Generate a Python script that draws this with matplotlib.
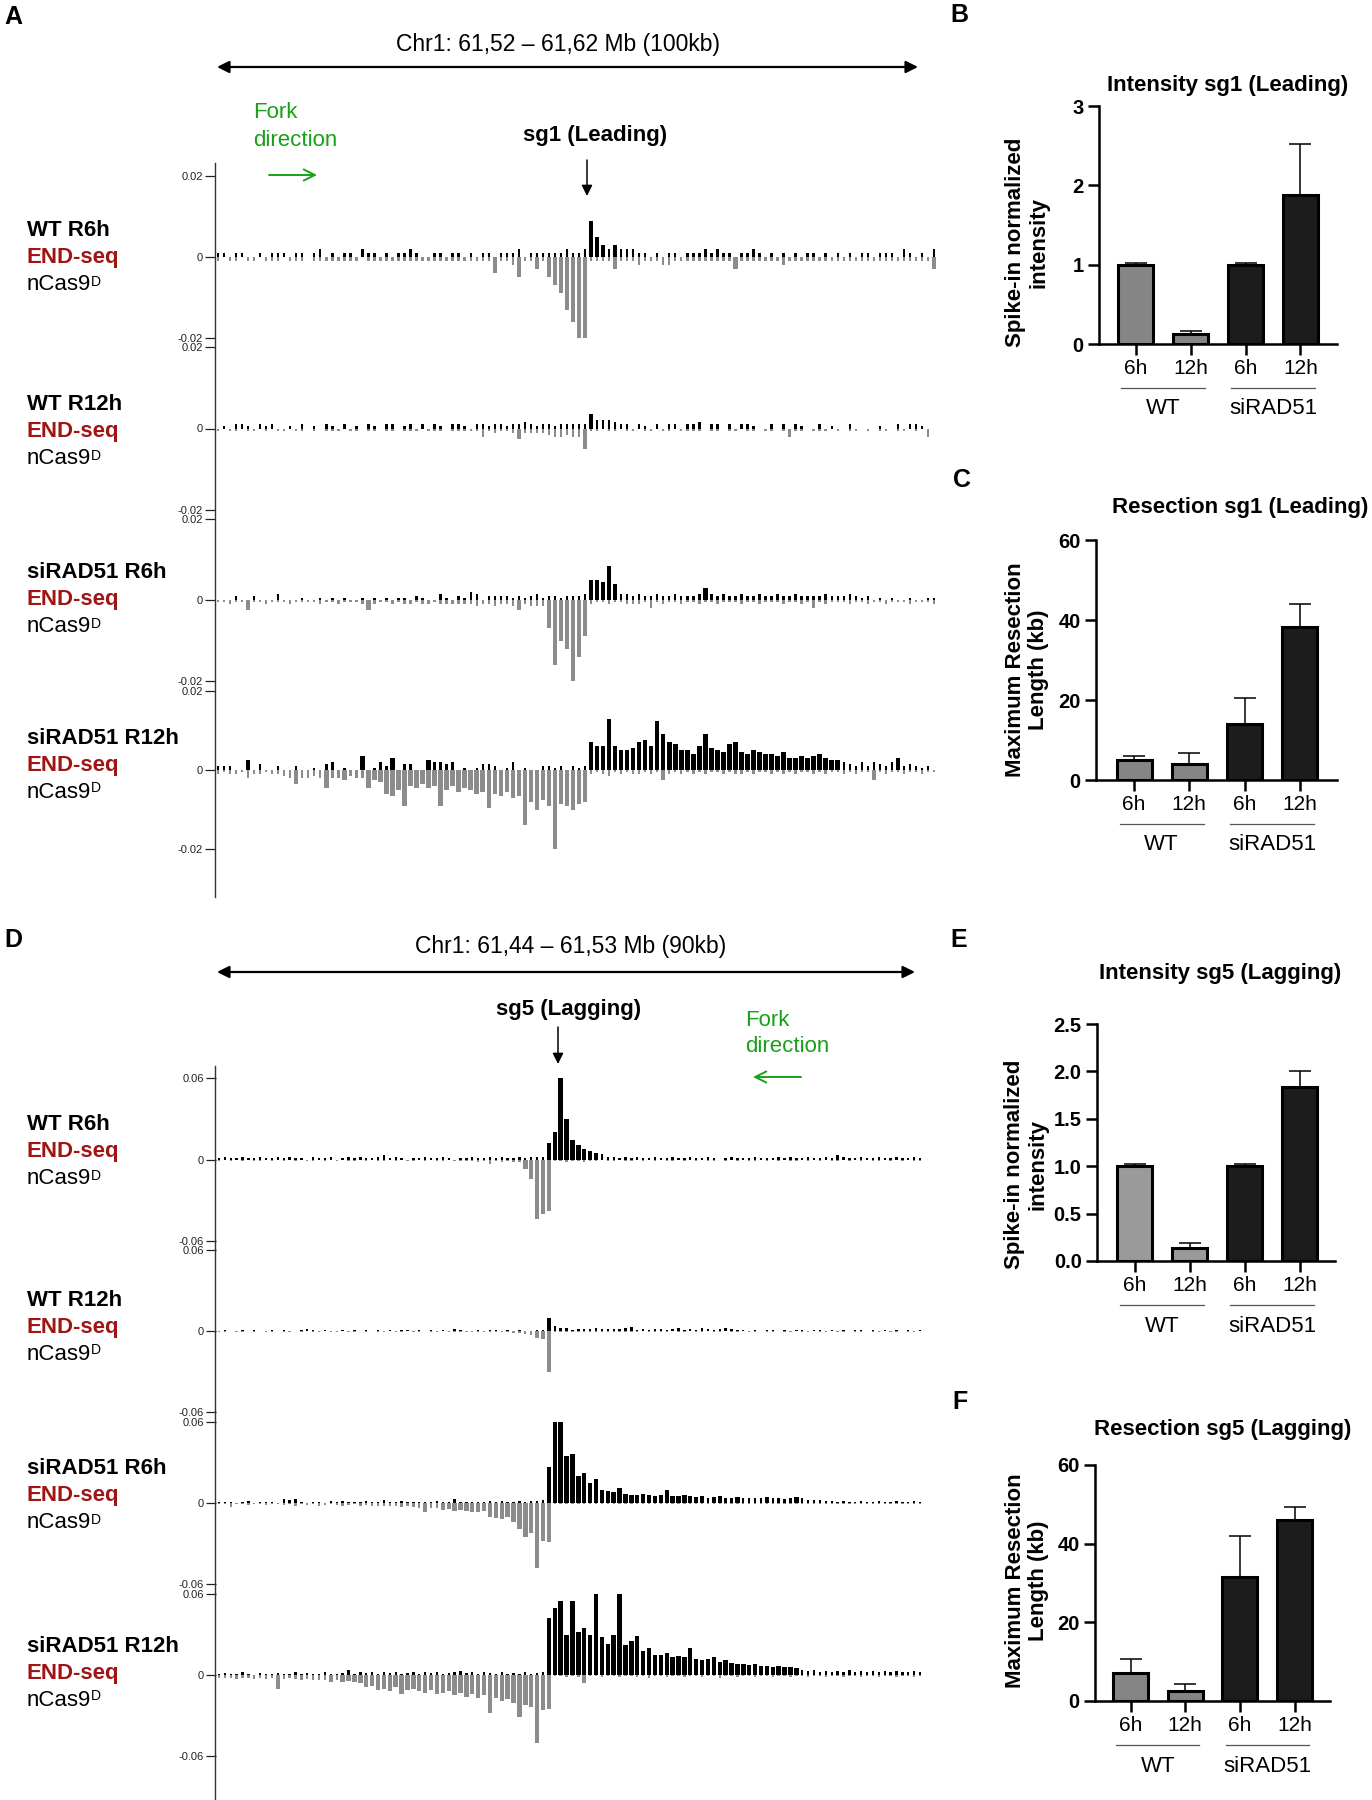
import numpy as np
import matplotlib
matplotlib.use('Agg')
import matplotlib.pyplot as plt

# ---------------- data ----------------
track_names = ['WT R6h', 'WT R12h', 'siRAD51 R6h', 'siRAD51 R12h']

# END-seq signal, 120 bins per window, units of 0.001 (pos = + strand, neg = - strand magnitude)
# panel A: sg1, chr1 61.52-61.62 Mb
A1_pos = [1,1,0,1,1,0,0,1,0,1,1,1,0,1,1,0,1,2,0,1,
          0,1,1,0,2,1,1,0,1,0,1,1,2,1,0,0,1,1,0,1,
          1,0,1,0,1,1,0,1,1,1,2,0,1,1,1,1,1,1,2,1,
          1,2,9,5,3,2,3,2,2,2,1,1,0,1,0,1,1,0,1,1,
          1,2,1,2,1,1,0,1,1,2,1,0,1,0,1,0,1,0,1,1,
          0,1,0,1,0,1,0,1,1,0,1,1,1,0,2,1,0,1,0,2]
A1_neg = [1,0,1,1,0,1,1,0,1,1,1,0,1,1,1,0,1,1,1,1,
          1,1,1,1,0,1,1,1,1,1,1,1,1,1,1,1,1,1,1,1,
          1,1,1,1,1,1,4,1,1,2,5,1,1,3,1,5,7,9,13,16,
          20,20,1,1,1,1,3,1,1,1,2,1,1,1,2,2,1,1,1,1,
          1,1,1,1,1,1,3,1,1,1,1,1,1,1,2,1,1,1,1,1,
          1,1,1,1,1,1,1,1,1,1,1,1,1,1,1,1,1,1,1,3]
A2_pos = [0,0.5,0,1,1,0.5,0,1,0.5,1,0,0,0.5,0,1,0,0.5,0,1,0.5,
          0,1,0,0.5,0,1,0.5,0,1,1,0,0.5,1,0,1,0,1,0.5,0,1,
          1,0.5,0,1,1,0.5,1,1,0.5,1,1,1.5,1,0.5,1,1,0.5,1,1,1,
          1,1,3.5,2,2,2,1.5,1,1,0,1,0.5,0,1,0,1,1,0,1,1,
          1.5,0,1,1,0,1,0,1,1,0.5,0,0,1,0,1,0,1,0.5,0,0,
          1,0,0.5,0,0,1,0,0,0,0,0.5,0,0,1,0,1,1,0.5,0,0]
A2_neg = [0.5,0,0.5,0.5,0,0.5,0.5,0,0.5,0,0.5,0.5,0,0.5,0.5,0,0.5,0,0.5,0.5,
          0.5,0,0.5,0.5,0,0.5,0.5,0,0.5,0.5,0,0.5,0.5,0.5,0,0.5,0.5,0.5,0,0.5,
          0.5,0.5,0.5,0.5,2,0.5,1,0.5,0.5,1,2.5,1,1,1,1,1.5,2,2,1.5,2,
          2,5,0.5,0.5,0,0.5,0.5,0,0.5,0.5,0,0.5,0.5,0,0.5,0.5,0,0.5,0.5,0.5,
          0.5,0,0.5,0.5,0,0.5,0.5,0,0.5,0.5,0,0.5,0.5,0,0.5,2,0.5,0.5,0,0.5,
          0.5,0.5,0,0.5,0,0.5,0.5,0,0.5,0,0.5,0.5,0,0.5,0.5,0,0.5,0,2,0]
A3_pos = [0,0,0,1,0,0,1,0,0,0,1.5,0,0,0,0.5,0,0,0.5,0,0.5,
          0,0.5,0,0,0.5,0,0.5,0,0.5,0,0.5,0.5,0,1,0.5,0,0,1.5,0.5,0,
          1,0.5,2,1.5,0,1,1,1,1,0.5,1,0.5,1,1.5,0.5,1,1,0.5,1,1,
          1,1.5,5,5,4.5,8.5,4,1.5,1.5,1,1.5,1,1,1.5,1,1,1.5,1,1,1,
          1.5,3,1.5,1,1.5,1,1,1.5,1,1,1.5,1,1,1.5,1,1,1.5,1,1,1,
          1,1.5,1,1,1,1.5,1,0.5,1,0,0.5,0,0.5,0,0,0.5,0,0,0.5,0.5]
A3_neg = [0.5,0.5,1,0.5,0.5,2.5,0.5,0.5,1,0.5,0.5,0.5,1,0.5,0.5,0.5,0.5,1,0.5,0.5,
          1,0.5,0.5,0.5,1,2.5,1,0.5,0.5,1,0.5,1,1,0.5,1,1,0.5,1,1,1,
          1,1,1,1.5,1,1,1.5,1,1,1.5,2.5,1,1.5,1.5,1.5,7,16,10,12,20,
          14,9,1,0.5,0.5,1,0.5,0.5,1,1,1,0.5,2,0.5,1,0.5,0.5,1,0.5,0.5,
          1,0.5,0.5,1,0.5,0.5,0.5,1,0.5,0.5,1,0.5,0.5,0.5,1,0.5,0.5,1,0.5,2,
          0.5,1,0.5,0.5,0.5,1,0.5,0.5,1,0.5,0.5,1,0.5,0.5,0.5,1,0.5,0.5,0.5,1]
A4_pos = [1,1,1,0,0,2.5,0,1.5,0,0,1,0,0,1,0,0,0.5,0,1.5,2,
          0,0.5,0,0,3.5,0,0.5,2,1,3,0,1.5,1.5,0,0,2.5,2,2,1.5,2,
          0,0.5,0,0.5,1.5,1.5,1,0,0.5,2,0,0.5,0,0,1,1,0.5,1,0,1,
          0.5,1,7,6,6,13,6,5,5,5.5,7,7.5,6,12.5,9,7,6.5,5,5,4,
          6,9,5.5,5,4.5,6.5,7,4.5,4,5,4.5,4,4,3.5,4.5,3,3,3.5,3,3.5,
          4,3,2.5,2.5,2,1.5,1,2,1,2,1.5,1,2,3,1,1.5,1,0.5,1,0]
A4_neg = [1,0.5,1,1,0.5,2,1,1,0.5,1,1,1.5,2,3.5,2,2,1.5,2,4.5,2,
          2,2.5,1.5,2,2,4.5,2.5,3,6,6.5,5,9,4,4.5,3.5,4.5,4,9,5,4,
          5.5,4.5,5,6,5.5,9.5,6,6.5,5.5,7,6.5,14,8,10,7.5,9,20,8.5,9,10,
          8.5,8,1,0.5,1,1.5,0.5,1,0.5,1,1,0.5,1,0.5,2.5,1,0.5,1,0.5,1,
          0.5,1,0.5,0.5,1,0.5,1,1,0.5,1,0.5,0.5,1,0.5,1,0.5,1,0.5,0.5,1,
          0.5,1,0.5,0.5,1,0.5,1,0.5,0.5,2.5,0.5,1,0.5,0.5,1,0.5,0.5,1,0.5,0.5]

# panel D: sg5, chr1 61.44-61.53 Mb
D1_pos = [1,2,1,1,2,1,1,2,1,1,2,1,2,1,1,0,2,1,1,2,
          0,1,2,1,2,1,1,2,3,1,2,1,0,1,1,2,1,1,2,1,
          0,1,1,2,1,1,2,1,2,1,1,2,1,2,2,2,12,20,60,30,
          14,11,8,6,5,4,2,2,1,2,1,2,1,1,2,1,1,2,1,1,
          2,1,1,2,1,0,1,2,1,1,1,2,1,1,1,2,1,2,1,1,
          2,1,1,2,1,3,2,1,1,2,1,1,2,1,1,2,1,1,2,1]
D1_neg = [1,0.5,1,0.5,1,0.5,1,1,0.5,1,0.5,1,0.5,1,0.5,1,1,0.5,1,0.5,
          1,0.5,1,1,0.5,1,0.5,1,1,0.5,1,0.5,1,1,0.5,1,0.5,1,1,0.5,
          1,1,1,1,1.5,1,3,1,1.5,1,1.5,2,7,14,44,40,38,1,1,1.5,
          1,1,1.5,1,1,0.5,1,1,0.5,1,1,0.5,1,0.5,1,0.5,1,1,0.5,1,
          0.5,1,0.5,1,1,0.5,1,0.5,1,0.5,1,1,0.5,1,0.5,1,0.5,1,1,0.5,
          1,0.5,1,0.5,1,1,0.5,1,0.5,1,0.5,1,1,0.5,1,0.5,1,0.5,1,1]
D2_pos = [0,0.5,0,0,1,0,0.5,0,0,0.5,0,1,0,0,0.5,1.5,1,0,0.5,0,
          0,1,0,0.5,0,1,0,0.5,0,1,0,0.5,1,0,0.5,0,1,0,0.5,0,
          1.5,0.5,0,0,1,0,0.5,1,0,0.5,0,1,0,0,1,0.5,10,4,2.5,2,
          1,1.5,1.5,1.5,2,1.5,1.5,1.5,1.5,2,3,1,1.5,1,1.5,1.5,1,1.5,2,1,
          1.5,1,2.5,1.5,1,1.5,2,1.5,0.5,1,0,0.5,0,1,0.5,0,1,0,0.5,1,
          0,0.5,1,0,0.5,0,1,0,0.5,1,0,1,0,0.5,0,1,0,0.5,0,0.5]
D2_neg = [0.5,0.5,0,0.5,0.5,0,0.5,0,0.5,0.5,0,0.5,0.5,0,0.5,0,0.5,0.5,0,0.5,
          0.5,0,0.5,0.5,0,0.5,0,0.5,0.5,0,0.5,0.5,0,0.5,0.5,0,0.5,0.5,0,0.5,
          0.5,1,0.5,1,0.5,1,1,0.5,1,1,1.5,1.5,2,3,5,6,30,1,0.5,1,
          0.5,1,0.5,1,0.5,0.5,1,0.5,0.5,1,0.5,0.5,0,0.5,0.5,1,0.5,0,0.5,0.5,
          0,0.5,0.5,0,0.5,0.5,0,0.5,0.5,0,0.5,0.5,0,0.5,0.5,0,0.5,0.5,0,0.5,
          0.5,0,0.5,0.5,0,0.5,0.5,0,0.5,0.5,0,0.5,0.5,0,0.5,0.5,0,0.5,0.5,0]
D3_pos = [1,0.5,1,0,1,1.5,0,1,0.5,1,0,3,2,3,1,0,0.5,1,0,1.5,
          1,1.5,1,1,0.5,1.5,1,1,2,1,1,1.5,1,1,0.5,1,1,1.5,1,1,
          3,1,1,1,0.5,1,1.5,1,1.5,1,1,1.5,1,1.5,1.5,2,27,60,60,35,
          36,20,22,15,18,10,9,8,11,7,6,6,7,6,5.5,6,9.5,5,5,6,
          5,4.5,5,4,4.5,5.5,4,4,4.5,3.5,4,3.5,4,4.5,3.5,3.5,3,3.5,4.5,3.5,
          2,2.5,2,1.5,1.5,1,1.5,1,1,1.5,1,1,1.5,1,1,1.5,1,1,1.5,1]
D3_neg = [1,1,3,1,1,1.5,1,1,1.5,1,1,1.5,1,2,1,1.5,1,2,1.5,1,
          1.5,2,1.5,1,2,1.5,2,2.5,2,2,2.5,3,2.5,3,4,7,3.5,4,5,4.5,
          6,5,6,6.5,7,6,10,11,12,10,14,19,25,22,48,28,29,1,1,1,
          1,0.5,1,1,0.5,1,1,0.5,1,1,1,0.5,1,1,0.5,1,1,1,0.5,1,
          0.5,1,1,0.5,1,1,0.5,1,0.5,1,1,1,0.5,1,1,0.5,1,1,1,0.5,
          1,1,0.5,1,1,1,0.5,1,1,0.5,1,1,1,0.5,1,1,1,0.5,1,1]
D4_pos = [1,1.5,1,1,2,1,0,1.5,1,1,1.5,1,1,2,1,1.5,1,1,2,1,
          1,1.5,3.5,1,2,1.5,2,1,2,1.5,2,1,1.5,2,1,2,1.5,2,1,1.5,
          2,3,1.5,2,1,2,1.5,1,2,1,1.5,1,2,1,1.5,2,42,50,55,30,
          55,32,35,30,60,28,23,30,60,22,25,29,18,20,15,15,16,13,14,13,
          20,12,11,12,13,10,11,9,8,8,7.5,8,6.5,7,6,7,6,6,5,4,
          3,3.5,2,3,2.5,3,2,3.5,2.5,3,2,3,2.5,3,2,3,2.5,2,3,2.5]
D4_neg = [2,2.5,2,3,2.5,2,3,2.5,3,2,10,3,2.5,3,3.5,3,4,3.5,4,5,
          4,5,4.5,5,6,9,8,11,10,12,9,14,11,10,12,13,11,14,13,12,
          15,13,16,14,17,15,28,17,19,18,21,31,22,24,50,26,25,1,1,1.5,
          1,1.5,6,1,1,1.5,1,1,1.5,1,1,1.5,1,2,1,1,1.5,1,1,1.5,
          1,1,1.5,1,1,2,1,1,1.5,1,1,1.5,1,1,1.5,1,1,1.5,1,1,
          1.5,1,1,1.5,1,1,1.5,1,1,1.5,1,1,1.5,1,1,1.5,1,1,1.5,1]

# bar charts
bar_cats = ['6h', '12h', '6h', '12h']
bar_groups = ['WT', 'siRAD51']
B_vals = [1.0, 0.13, 1.0, 1.88]
B_err = [0.02, 0.03, 0.02, 0.64]
C_vals = [5.0, 4.0, 13.9, 38.2]
C_err = [1.1, 2.8, 6.7, 5.9]
E_vals = [1.0, 0.14, 1.0, 1.84]
E_err = [0.02, 0.05, 0.02, 0.16]
F_vals = [7.2, 2.5, 31.4, 45.9]
F_err = [3.6, 1.7, 10.5, 3.3]

# ---------------- drawing ----------------
W, H = 1372, 1800
plt.rcParams['font.family'] = ['Liberation Sans', 'DejaVu Sans']
GREY = '#8c8c8c'
RED = '#a01414'
GREEN = '#19a019'

fig = plt.figure(figsize=(W / 100, H / 100), dpi=100)

ov = fig.add_axes([0, 0, 1, 1])
ov.set_xlim(0, W)
ov.set_ylim(H, 0)
ov.axis('off')
ov.set_zorder(10)


def px_rect(x0, y0, x1, y1):
    return [x0 / W, 1 - y1 / H, (x1 - x0) / W, (y1 - y0) / H]


def draw_track(y_top, y_bot, x0, x1, pos, neg, lim, ticklabels, thr):
    ax = fig.add_axes(px_rect(x0, y_top, x1, y_bot))
    ax.patch.set_visible(False)
    pos = np.array(pos)
    neg = np.array(neg)
    # thin ticks for background, wider spikes where the signal is strong
    ax.bar(np.arange(len(pos)), pos * 1e-3, width=np.where(pos >= thr, 0.75, 0.4),
           color='black', linewidth=0)
    ax.bar(np.arange(len(neg)), -neg * 1e-3, width=np.where(neg >= thr, 0.75, 0.4),
           color=GREY, linewidth=0)
    ax.set_xlim(-0.5, len(pos) - 0.5)
    ax.set_ylim(-lim, lim)
    for s in ax.spines.values():
        s.set_visible(False)
    ax.set_xticks([])
    ax.set_yticks([lim, 0, -lim])
    ax.set_yticklabels(ticklabels, fontsize=8)
    ax.tick_params(axis='y', length=7, width=0.9, pad=1.5, colors='#222222')
    return ax


def track_label(y, name):
    ov.text(27, y, name, fontsize=16, fontweight='bold', va='center')
    ov.text(27, y + 27, 'END-seq', fontsize=16, fontweight='bold',
            color=RED, va='center')
    t = ov.text(27, y + 54, 'nCas9', fontsize=16, va='center')
    ov.annotate('D', xy=(1.0, 1.0), xycoords=t, fontsize=10,
                ha='left', va='top')


# ---- panel A ----
ov.text(4, 17, 'A', fontsize=18, fontweight='bold', va='center')
ov.text(558, 44, 'Chr1: 61,52 \u2013 61,62 Mb (100kb)', fontsize=16.5,
        ha='center', va='center')
ov.annotate('', xy=(918, 67), xytext=(217, 67),
            arrowprops=dict(arrowstyle='<|-|>', lw=1.6, color='black',
                            mutation_scale=18, shrinkA=0, shrinkB=0))
ov.text(253, 113, 'Fork', fontsize=16, color=GREEN, va='center')
ov.text(253, 140, 'direction', fontsize=16, color=GREEN, va='center')
ov.annotate('', xy=(317, 175), xytext=(269, 175),
            arrowprops=dict(arrowstyle='->', lw=1.4, color=GREEN,
                            mutation_scale=20, shrinkA=0, shrinkB=0))
ov.text(595, 136, 'sg1 (Leading)', fontsize=16, fontweight='bold',
        ha='center', va='center')
ov.annotate('', xy=(587, 196), xytext=(587, 160),
            arrowprops=dict(arrowstyle='-|>', lw=1.1, color='black',
                            mutation_scale=16, shrinkA=0, shrinkB=0))
ov.plot([215, 215], [163, 897], color='#333333', lw=1.0)

A_tops = [176, 347, 519, 691]
A_bots = [338, 510, 681, 849]
A_label_y = [231, 405, 573, 738]
A_data = [(A1_pos, A1_neg), (A2_pos, A2_neg), (A3_pos, A3_neg), (A4_pos, A4_neg)]
for i in range(4):
    draw_track(A_tops[i], A_bots[i], 215, 937, A_data[i][0], A_data[i][1],
               0.02, ['0.02', '0', '-0.02'], 2.5)
    track_label(A_label_y[i], track_names[i])

# ---- panel D ----
ov.text(4, 940, 'D', fontsize=18, fontweight='bold', va='center')
ov.text(571, 947, 'Chr1: 61,44 \u2013 61,53 Mb (90kb)', fontsize=16.5,
        ha='center', va='center')
ov.annotate('', xy=(915, 972), xytext=(217, 972),
            arrowprops=dict(arrowstyle='<|-|>', lw=1.6, color='black',
                            mutation_scale=18, shrinkA=0, shrinkB=0))
ov.text(745, 1020, 'Fork', fontsize=16, color=GREEN, va='center')
ov.text(745, 1047, 'direction', fontsize=16, color=GREEN, va='center')
ov.annotate('', xy=(753, 1077), xytext=(801, 1077),
            arrowprops=dict(arrowstyle='->', lw=1.4, color=GREEN,
                            mutation_scale=20, shrinkA=0, shrinkB=0))
ov.text(569, 1010, 'sg5 (Lagging)', fontsize=16, fontweight='bold',
        ha='center', va='center')
ov.annotate('', xy=(558, 1064), xytext=(558, 1027),
            arrowprops=dict(arrowstyle='-|>', lw=1.1, color='black',
                            mutation_scale=16, shrinkA=0, shrinkB=0))
ov.plot([215, 215], [1066, 1800], color='#333333', lw=1.0)

D_tops = [1078, 1250, 1422, 1594]
D_bots = [1241, 1412, 1584, 1756]
D_label_y = [1125, 1300, 1469, 1646]
D_data = [(D1_pos, D1_neg), (D2_pos, D2_neg), (D3_pos, D3_neg), (D4_pos, D4_neg)]
for i in range(4):
    draw_track(D_tops[i], D_bots[i], 216, 923, D_data[i][0], D_data[i][1],
               0.06, ['0.06', '0', '-0.06'], 4.5)
    track_label(D_label_y[i], track_names[i])


# ---- bar panels ----
def bar_chart(x0, x1, ytop, ybot, c0, step, vals, errs, wt_color, ymax,
              yticks, yticklabels):
    ax = fig.add_axes(px_rect(x0, ytop, x1, ybot))
    ax.patch.set_visible(False)
    pos = np.arange(len(vals))
    ax.set_xlim(-(c0 - x0) / step, (x1 - c0) / step)
    ax.set_ylim(0, ymax)
    colors = [wt_color, wt_color, '#1c1c1c', '#1c1c1c']
    ax.bar(pos, vals, width=35 / step, color=colors, edgecolor='black',
           linewidth=2.2, zorder=3)
    ax.errorbar(pos, vals, yerr=[np.zeros(len(vals)), errs], fmt='none',
                ecolor='black', elinewidth=1.1, capsize=8, capthick=1.1,
                zorder=4)
    for s in ['top', 'right']:
        ax.spines[s].set_visible(False)
    for s in ['left', 'bottom']:
        ax.spines[s].set_linewidth(1.8)
    ax.set_xticks(pos)
    ax.set_xticklabels(bar_cats, fontsize=15)
    ax.set_yticks(yticks)
    ax.set_yticklabels(yticklabels, fontsize=14.5, fontweight='bold')
    ax.tick_params(axis='both', length=8, width=1.8, pad=3)
    span = ybot - ytop
    tr = ax.get_xaxis_transform()
    for g, c in zip(bar_groups, [0.5, 2.5]):
        ax.plot([c - 0.76, c + 0.76], [-44 / span] * 2, transform=tr,
                color='#555555', lw=0.9, clip_on=False)
        ax.text(c, -65 / span, g, transform=tr, fontsize=16,
                ha='center', va='center')
    return ax


# B
ov.text(950, 15, 'B', fontsize=18, fontweight='bold', va='center')
ov.text(1228, 85, 'Intensity sg1 (Leading)', fontsize=16, fontweight='bold',
        ha='center', va='center')
ov.text(1027, 242, 'Spike-in normalized\nintensity', fontsize=16,
        fontweight='bold', rotation=90, ha='center', va='center',
        linespacing=1.15)
bar_chart(1099, 1337, 106, 344, 1135.5, 55, B_vals, B_err, '#858585', 3,
          [0, 1, 2, 3], ['0', '1', '2', '3'])

# C
ov.text(953, 480, 'C', fontsize=18, fontweight='bold', va='center')
ov.text(1240, 508, 'Resection sg1 (Leading)', fontsize=16, fontweight='bold',
        ha='center', va='center')
ov.text(1027, 670, 'Maximum Resection\nLength (kb)', fontsize=16,
        fontweight='bold', rotation=90, ha='center', va='center',
        linespacing=1.15)
bar_chart(1096, 1337, 540, 780, 1134, 55.3, C_vals, C_err, '#858585', 60,
          [0, 20, 40, 60], ['0', '20', '40', '60'])

# E
ov.text(950, 940, 'E', fontsize=18, fontweight='bold', va='center')
ov.text(1220, 973, 'Intensity sg5 (Lagging)', fontsize=16, fontweight='bold',
        ha='center', va='center')
ov.text(1026, 1164, 'Spike-in normalized\nintensity', fontsize=16,
        fontweight='bold', rotation=90, ha='center', va='center',
        linespacing=1.15)
bar_chart(1097, 1335, 1024, 1261, 1134.5, 55, E_vals, E_err, '#9a9a9a', 2.5,
          [0, 0.5, 1.0, 1.5, 2.0, 2.5], ['0.0', '0.5', '1.0', '1.5', '2.0', '2.5'])

# F
ov.text(952, 1402, 'F', fontsize=18, fontweight='bold', va='center')
ov.text(1223, 1430, 'Resection sg5 (Lagging)', fontsize=16, fontweight='bold',
        ha='center', va='center')
ov.text(1027, 1581, 'Maximum Resection\nLength (kb)', fontsize=16,
        fontweight='bold', rotation=90, ha='center', va='center',
        linespacing=1.15)
bar_chart(1095, 1330, 1465, 1701, 1130.5, 54.7, F_vals, F_err, '#858585', 60,
          [0, 20, 40, 60], ['0', '20', '40', '60'])

fig.savefig('out.png', dpi=100)
